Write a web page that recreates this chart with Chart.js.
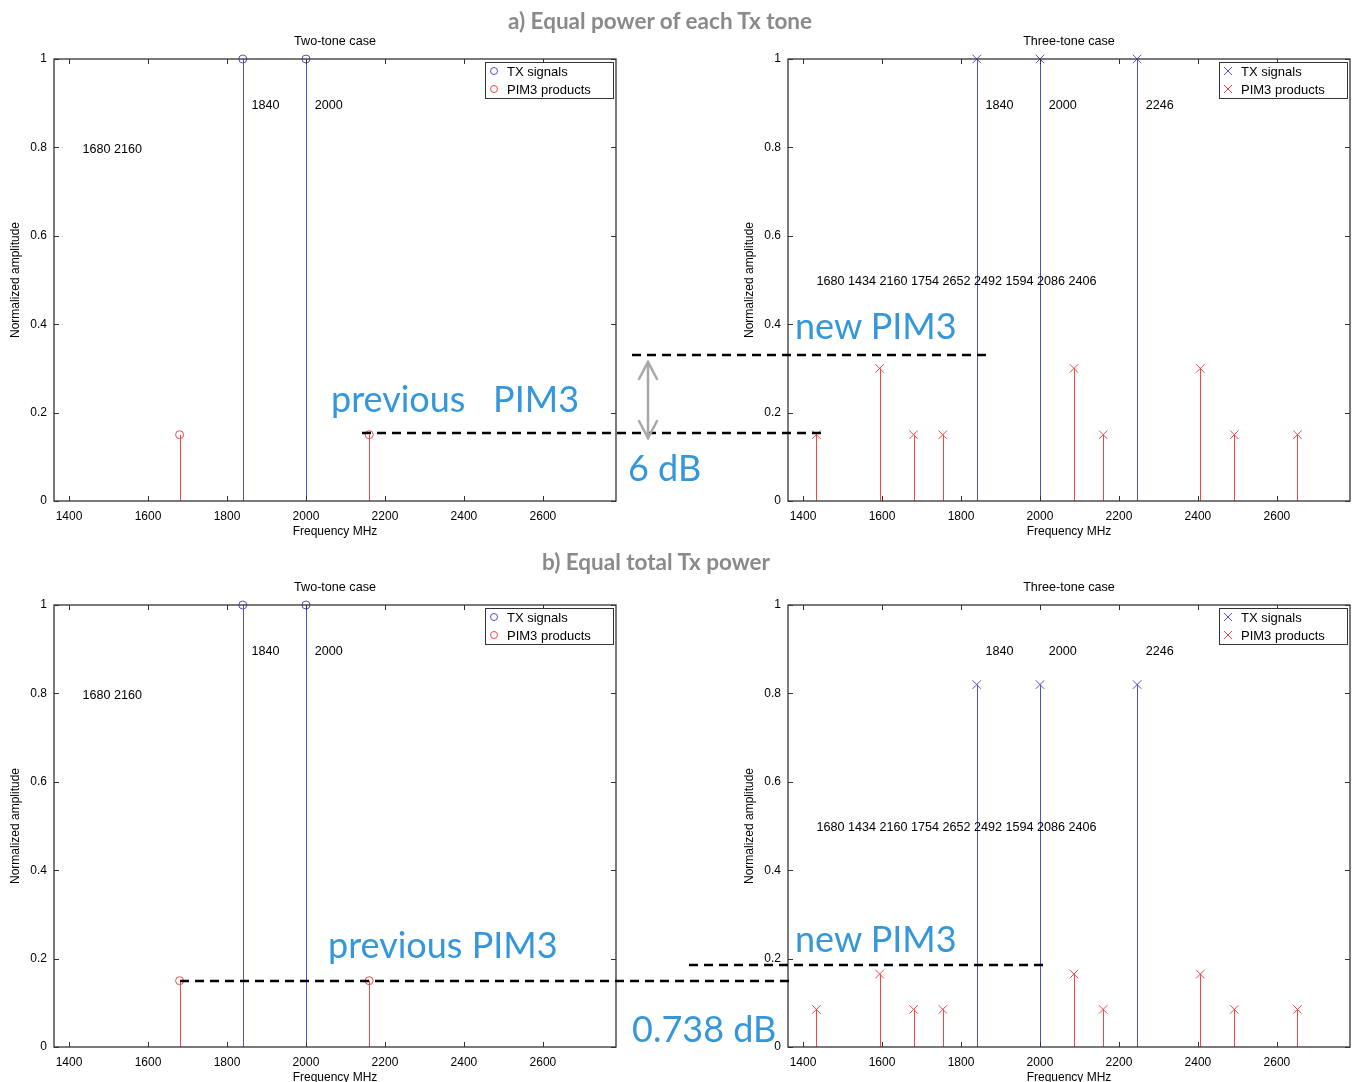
<!DOCTYPE html>
<html>
<head>
<meta charset="utf-8">
<script src="https://cdn.jsdelivr.net/npm/chart.js@4.4.0/dist/chart.umd.min.js"></script>
<style>
  body { margin: 0; background: #fff; }
  #page { position: relative; width: 1357px; height: 1082px; overflow: hidden; background: #fff; }
  canvas { position: absolute; }
  .head { position: absolute; font-family: Lato, sans-serif; font-weight: bold; font-size: 22.5px; color: #8a8a8a; white-space: nowrap; transform: translate(-50%, -50%); }
  .note { position: absolute; font-family: Lato, sans-serif; font-size: 36px; color: #3497db; white-space: pre; line-height: 1; transform: translateY(-50%); }
  svg { position: absolute; left: 0; top: 0; }
</style>
</head>
<body>
<div id="page">
  <canvas id="tl" width="640" height="520" style="left:0;top:30px"></canvas>
  <canvas id="tr" width="657" height="520" style="left:700px;top:30px"></canvas>
  <canvas id="bl" width="640" height="520" style="left:0;top:576px"></canvas>
  <canvas id="br" width="657" height="520" style="left:700px;top:576px"></canvas>

  <div class="head" style="left:660px;top:20px">a) Equal power of each Tx tone</div>
  <div class="head" style="left:656px;top:561px">b) Equal total Tx power</div>

  <svg width="1357" height="1082">
    <g stroke="#000" stroke-width="2.5" stroke-dasharray="9 6" fill="none">
      <line x1="632" y1="355" x2="990" y2="355"/>
      <line x1="362" y1="433" x2="825" y2="433"/>
      <line x1="689" y1="965" x2="1046" y2="965"/>
      <line x1="180" y1="981" x2="795" y2="981"/>
    </g>
    <g stroke="#a8a8a8" stroke-width="2.5" fill="none" stroke-linecap="round">
      <line x1="648" y1="362" x2="648" y2="438"/>
      <polyline points="639,379 648,362 657,379"/>
      <polyline points="639,421 648,438 657,421"/>
    </g>
  </svg>

  <div class="note" style="left:331px;top:398px">previous   PIM3</div>
  <div class="note" style="left:628px;top:467px">6 dB</div>
  <div class="note" style="left:795px;top:325px">new PIM3</div>
  <div class="note" style="left:328px;top:944px">previous PIM3</div>
  <div class="note" style="left:795px;top:938px">new PIM3</div>
  <div class="note" style="left:632px;top:1028px">0.738 dB</div>
</div>

<script>
// axis ticks
const xTicks = [1400, 1600, 1800, 2000, 2200, 2400, 2600];
const yTicks = [0, 0.2, 0.4, 0.6, 0.8, 1];

// tone frequencies (MHz)
const txTwo = [1840, 2000];
const pimTwo = [1680, 2160];
const txThree = [1840, 2000, 2246];
const pimThree = [1434, 1594, 1680, 1754, 2086, 2160, 2406, 2492, 2652];
// order used in the printed PIM3 list
const pimThreeListed = [1680, 1434, 2160, 1754, 2652, 2492, 1594, 2086, 2406];

// a) equal power of each tone
const aTxTwoAmp = [1, 1];
const aPimTwoAmp = [0.15, 0.15];
const aTxThreeAmp = [1, 1, 1];
const aPimThreeAmp = [0.15, 0.30, 0.15, 0.15, 0.30, 0.15, 0.30, 0.15, 0.15];

// b) equal total power
const bTxTwoAmp = [1, 1];
const bPimTwoAmp = [0.15, 0.15];
const bTxThreeAmp = [0.82, 0.82, 0.82];
const bPimThreeAmp = [0.085, 0.165, 0.085, 0.085, 0.165, 0.085, 0.165, 0.085, 0.085];

const BLUE = '#5050cc';
const RED = '#f04848';
const FAMILY = '"Liberation Sans", Arial, sans-serif';
const FONT = '12.6px ' + FAMILY;
const LEGEND_FONT = '13px ' + FAMILY;

Chart.defaults.font.family = FAMILY;
Chart.defaults.font.size = 12;
Chart.defaults.color = '#000';

const pts = (xs, ys) => xs.map((x, i) => ({ x: x, y: ys[i] }));

// stems from every point down to zero
const stemPlugin = {
  id: 'stems',
  beforeDatasetsDraw(chart) {
    const ctx = chart.ctx;
    const y0 = chart.scales.y.getPixelForValue(0);
    chart.data.datasets.forEach((ds, i) => {
      const meta = chart.getDatasetMeta(i);
      ctx.save();
      ctx.strokeStyle = ds.borderColor;
      ctx.lineWidth = 1;
      meta.data.forEach(p => {
        const x = Math.round(p.x) + 0.5;
        ctx.beginPath();
        ctx.moveTo(x, p.y);
        ctx.lineTo(x, y0);
        ctx.stroke();
      });
      ctx.restore();
    });
  }
};

// matlab-like box, inward ticks, title, texts and legend
const framePlugin = {
  id: 'frame',
  afterDraw(chart) {
    const ctx = chart.ctx, a = chart.chartArea;
    const xs = chart.scales.x, ys = chart.scales.y;
    const o = chart.options.plugins.frame;
    ctx.save();
    ctx.strokeStyle = '#333';
    ctx.lineWidth = 1.3;
    ctx.strokeRect(a.left, a.top, a.right - a.left, a.bottom - a.top);
    ctx.lineWidth = 1;
    ctx.beginPath();
    xTicks.forEach(v => {
      const x = Math.round(xs.getPixelForValue(v)) + 0.5;
      ctx.moveTo(x, a.bottom); ctx.lineTo(x, a.bottom - 5);
      ctx.moveTo(x, a.top); ctx.lineTo(x, a.top + 5);
    });
    yTicks.forEach(v => {
      const y = Math.round(ys.getPixelForValue(v)) + 0.5;
      ctx.moveTo(a.left, y); ctx.lineTo(a.left + 5, y);
      ctx.moveTo(a.right, y); ctx.lineTo(a.right - 5, y);
    });
    ctx.stroke();

    ctx.fillStyle = '#000';
    ctx.font = FONT;
    ctx.textBaseline = 'middle';
    ctx.textAlign = 'center';
    ctx.fillText(o.title, (a.left + a.right) / 2, a.top - 17);

    ctx.textAlign = 'left';
    o.tx.forEach(f => {
      ctx.fillText(String(f), xs.getPixelForValue(f + 22), ys.getPixelForValue(0.9) + 2);
    });
    ctx.fillText(o.pimList.join(' '), xs.getPixelForValue(1434), ys.getPixelForValue(o.pimListY) + 2);

    // legend
    const w = 128, h = 36;
    const lx = a.right - 3 - w, ly = a.top + 3;
    ctx.fillStyle = '#fff';
    ctx.fillRect(lx, ly, w, h);
    ctx.strokeStyle = '#333';
    ctx.strokeRect(lx + 0.5, ly + 0.5, w, h);
    ctx.font = LEGEND_FONT;
    [['TX signals', BLUE], ['PIM3 products', RED]].forEach((row, i) => {
      const cy = ly + 10 + i * 18;
      const cx = lx + 9;
      ctx.strokeStyle = row[1];
      ctx.lineWidth = 1;
      ctx.beginPath();
      if (o.marker === 'circle') {
        ctx.arc(cx, cy - 1, 3.5, 0, Math.PI * 2);
      } else {
        ctx.moveTo(cx - 4, cy - 5); ctx.lineTo(cx + 4, cy + 3);
        ctx.moveTo(cx + 4, cy - 5); ctx.lineTo(cx - 4, cy + 3);
      }
      ctx.stroke();
      ctx.fillStyle = '#000';
      ctx.fillText(row[0], lx + 22, cy);
    });
    ctx.restore();
  }
};

function makeChart(id, opt) {
  const style = opt.marker === 'circle' ? 'circle' : 'crossRot';
  const radius = opt.marker === 'circle' ? 4 : 6;
  return new Chart(document.getElementById(id), {
    type: 'scatter',
    data: {
      datasets: [
        { label: 'TX signals', data: pts(opt.tx, opt.txAmp), borderColor: BLUE, backgroundColor: 'rgba(0,0,0,0)',
          pointStyle: style, pointRadius: radius, pointBorderWidth: 1, clip: false },
        { label: 'PIM3 products', data: pts(opt.pim, opt.pimAmp), borderColor: RED, backgroundColor: 'rgba(0,0,0,0)',
          pointStyle: style, pointRadius: radius, pointBorderWidth: 1, clip: false }
      ]
    },
    options: {
      responsive: false,
      animation: false,
      devicePixelRatio: 1,
      layout: { padding: { left: opt.padLeft, right: opt.padRight, top: 29, bottom: 11 } },
      plugins: {
        legend: { display: false },
        tooltip: { enabled: false },
        frame: { title: opt.title, tx: opt.tx, pimList: opt.pimList, pimListY: opt.pimListY, marker: opt.marker }
      },
      scales: {
        x: {
          type: 'linear', min: 1362, max: 2785,
          afterBuildTicks: s => { s.ticks = xTicks.map(v => ({ value: v })); },
          afterFit: s => { s.height = 38; },
          grid: { display: false, drawTicks: false },
          border: { display: false },
          ticks: { padding: 8, maxRotation: 0, autoSkip: false, callback: v => String(v) },
          title: { display: true, text: 'Frequency MHz', padding: 0 }
        },
        y: {
          type: 'linear', min: 0, max: 1,
          afterBuildTicks: s => { s.ticks = yTicks.map(v => ({ value: v })); },
          afterFit: s => { s.width = 46; },
          grid: { display: false, drawTicks: false },
          border: { display: false },
          ticks: { padding: 7, callback: v => String(Math.round(v * 10) / 10) },
          title: { display: true, text: 'Normalized amplitude', padding: 0 }
        }
      }
    },
    plugins: [stemPlugin, framePlugin]
  });
}

makeChart('tl', { title: 'Two-tone case', tx: txTwo, txAmp: aTxTwoAmp, pim: pimTwo, pimAmp: aPimTwoAmp,
  marker: 'circle', pimList: pimTwo, pimListY: 0.8, padLeft: 8, padRight: 24 });
makeChart('tr', { title: 'Three-tone case', tx: txThree, txAmp: aTxThreeAmp, pim: pimThree, pimAmp: aPimThreeAmp,
  marker: 'cross', pimList: pimThreeListed, pimListY: 0.5, padLeft: 42, padRight: 7 });
makeChart('bl', { title: 'Two-tone case', tx: txTwo, txAmp: bTxTwoAmp, pim: pimTwo, pimAmp: bPimTwoAmp,
  marker: 'circle', pimList: pimTwo, pimListY: 0.8, padLeft: 8, padRight: 24 });
makeChart('br', { title: 'Three-tone case', tx: txThree, txAmp: bTxThreeAmp, pim: pimThree, pimAmp: bPimThreeAmp,
  marker: 'cross', pimList: pimThreeListed, pimListY: 0.5, padLeft: 42, padRight: 7 });
</script>
</body>
</html>
